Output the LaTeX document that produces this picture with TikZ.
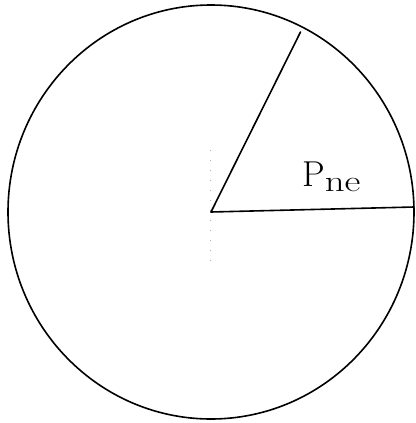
\documentclass[tikz,border=0pt]{standalone}
\usepackage{fontspec}
\begin{document}
\begin{tikzpicture}[x=1pt,y=-1pt,
  stroke/.style={line width=1.6pt, line cap=round},
  guide/.style={gray!60, line width=0.6pt, dash pattern=on 1pt off 9pt},
  lab/.style={inner sep=0pt, anchor=base west}]
\useasboundingbox (0,0) rectangle (415,423);
\coordinate (c) at (211,212);
\coordinate (r) at (414,207);
\coordinate (t) at (300.5,32);
\coordinate (g1) at (210,150);
\coordinate (g2) at (210,262);
\draw[stroke] (c) ellipse [x radius=203, y radius=207];
\draw[guide] (g1) -- (g2);
\draw[stroke] (c) -- (r);
\draw[stroke] (c) -- (t);
\node[lab, font=\fontsize{36}{40}\selectfont] (lbl) at (302,186)
  {P\raisebox{-5pt}{\fontsize{30}{34}\selectfont\scalebox{1.3}[1]{ne}}};
\end{tikzpicture}
\end{document}
